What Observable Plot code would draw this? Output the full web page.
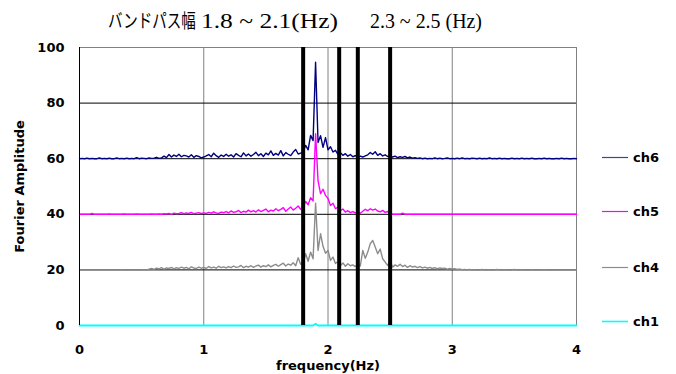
<!DOCTYPE html>
<html><head><meta charset="utf-8">
<script src="https://cdn.jsdelivr.net/npm/d3@7"></script>
<script src="https://cdn.jsdelivr.net/npm/@observablehq/plot@0.6"></script>
<style>
html,body{margin:0;padding:0;background:#fff;}
#wrap{position:relative;width:676px;height:374px;overflow:hidden;background:#fff;}
#overlay{position:absolute;left:0;top:0;pointer-events:none;}
</style></head><body>
<div id="wrap"><div id="chart"></div><svg id="overlay" width="676" height="374"></svg></div>
<script>
// ---- data ----
const freqStep = 0.02;          // FFT bin width (Hz), bins 0 .. 4 Hz
const binCount = 201;
const xTicks = [0, 1, 2, 3, 4];
const yTicks = [0, 20, 40, 60, 80, 100];
const bandEdges = [1.8, 2.09, 2.24, 2.5];
const titleMain = "バンドパス幅";
const titleBand1 = "1.8 ~ 2.1(Hz)";
const titleBand2 = "2.3 ~ 2.5 (Hz)";
const seriesNames = ["ch6", "ch5", "ch4", "ch1"];
const seriesColors = ["#000080", "#ff00ff", "#8c8c8c", "#00ffff"];

const ch6Amp = [
60.0,60.1,60.0,60.2,60.0,60.1,60.0,60.0,60.3,60.0,
60.1,60.0,60.2,60.0,60.0,60.3,60.0,60.1,60.0,60.2,
60.0,60.1,60.0,60.4,60.0,60.2,60.1,60.0,60.3,60.1,
60.2,60.5,60.1,60.3,60.9,60.4,61.5,60.6,61.3,60.8,
61.6,60.7,61.2,61.0,60.6,61.4,60.5,61.1,60.8,60.3,
60.6,61.0,61.5,60.7,62.0,61.1,60.5,61.3,60.8,61.6,
60.9,61.4,60.6,61.8,61.2,60.7,62.1,61.0,61.7,60.9,
61.5,62.3,61.1,61.8,60.8,62.0,61.4,62.8,61.2,61.9,
61.3,62.9,61.0,62.2,61.6,61.1,62.4,63.3,61.7,62.0,
62.5,64.8,63.2,68.4,66.5,94.7,65.8,68.3,64.1,67.6,
63.2,64.3,62.4,63.0,61.6,62.1,61.2,61.8,60.9,61.5,
60.7,61.1,60.5,60.9,60.6,61.0,61.4,62.2,61.6,62.5,
61.2,61.8,61.0,61.4,60.8,61.1,60.6,60.9,60.4,60.7,
60.5,60.8,60.3,60.6,60.2,60.4,60.1,60.3,60.0,60.2,
60.0,60.1,60.0,60.3,60.0,60.2,60.0,60.1,60.3,60.0,
60.1,60.0,60.2,60.0,60.3,60.0,60.1,60.0,60.2,60.1,
60.0,60.2,60.0,60.1,60.0,60.3,60.0,60.1,60.0,60.2,
60.0,60.1,60.0,60.0,60.2,60.0,60.1,60.0,60.2,60.0,
60.1,60.0,60.2,60.0,60.0,60.1,60.0,60.2,60.0,60.1,
60.0,60.0,60.1,60.0,60.2,60.0,60.1,60.0,60.0,60.1,60.0];

const ch5Amp = [
40.0,40.0,40.0,40.0,40.0,40.3,40.0,40.0,40.0,40.0,
40.0,40.0,40.1,40.0,40.0,40.0,40.0,40.0,40.1,40.0,
40.0,40.0,40.0,40.1,40.0,40.0,40.0,40.0,40.0,40.1,
40.0,40.0,40.1,40.0,40.2,40.1,40.3,40.0,40.4,40.2,
40.3,40.6,40.2,40.5,40.3,40.7,40.2,40.4,40.6,40.3,
40.5,40.3,40.7,40.4,40.9,40.5,40.3,40.8,40.6,41.0,
40.5,41.2,40.7,40.9,41.4,40.6,41.1,40.8,41.5,40.9,
41.3,40.8,41.6,41.0,41.4,41.9,40.9,41.5,41.2,42.0,
41.3,41.8,42.4,41.1,41.9,42.6,41.5,42.2,43.0,41.8,
42.5,44.6,43.4,46.0,44.8,69.0,52.0,47.4,49.0,46.8,
45.7,43.2,44.0,42.0,42.6,41.4,41.9,40.8,41.3,40.6,
41.0,40.5,40.8,40.4,41.1,41.8,41.3,42.0,41.5,41.9,
41.2,40.9,41.4,40.7,41.0,40.0,40.0,40.0,40.0,40.0,
40.4,40.0,40.0,40.0,40.0,40.0,40.0,40.0,40.0,40.0,
40.0,40.0,40.0,40.0,40.0,40.0,40.0,40.0,40.0,40.0,
40.0,40.0,40.0,40.0,40.0,40.0,40.0,40.0,40.0,40.0,
40.0,40.0,40.0,40.0,40.0,40.0,40.0,40.0,40.0,40.0,
40.0,40.0,40.0,40.0,40.0,40.0,40.0,40.0,40.0,40.0,
40.0,40.0,40.0,40.0,40.0,40.0,40.0,40.0,40.0,40.0,
40.0,40.0,40.0,40.0,40.0,40.0,40.0,40.0,40.0,40.0,40.0];

const ch4Amp = [
20.0,20.0,20.0,20.0,20.0,20.0,20.0,20.0,20.0,20.0,
20.0,20.0,20.0,20.0,20.0,20.0,20.0,20.1,20.0,20.0,
20.0,20.0,20.0,20.0,20.0,20.0,20.1,20.0,20.3,20.5,
20.2,20.6,20.4,20.8,20.3,20.7,20.5,20.9,20.4,20.8,
20.5,21.0,20.6,20.9,20.4,21.1,20.7,20.5,21.0,20.6,
20.9,20.5,21.2,20.7,21.0,20.6,21.3,20.8,21.1,20.7,
21.2,20.8,21.4,20.9,21.1,21.6,20.8,21.3,21.0,21.5,
20.9,21.4,21.7,21.0,21.5,21.2,21.8,21.1,21.6,22.0,
21.3,21.9,22.4,21.4,22.1,21.7,22.6,21.5,24.4,22.0,
22.5,25.8,23.1,26.4,24.0,44.0,27.0,33.0,28.5,26.0,
27.0,23.4,24.6,22.3,23.0,21.6,22.5,21.3,22.2,21.5,
21.8,21.2,22.0,21.4,27.0,24.2,26.4,29.4,30.6,28.2,
25.8,27.5,24.0,22.8,21.6,23.4,21.0,21.8,21.3,22.0,
21.2,21.7,20.9,21.5,21.0,21.3,20.8,21.2,20.7,21.0,
20.6,20.9,20.5,20.8,20.4,20.7,20.5,20.6,20.3,20.5,
20.3,20.4,20.2,20.3,20.1,20.2,20.0,20.2,20.0,20.1,
20.0,20.0,20.2,20.0,20.0,20.1,20.0,20.0,20.2,20.0,
20.0,20.1,20.0,20.0,20.0,20.2,20.0,20.0,20.1,20.0,
20.0,20.0,20.1,20.0,20.0,20.0,20.0,20.1,20.0,20.0,
20.0,20.0,20.0,20.0,20.0,20.0,20.0,20.0,20.0,20.0,20.0];

const ch1Freq = [0, 1.88, 1.9, 1.92, 4];
const ch1Amp = [0, 0, 0.6, 0, 0];

// ---- build tables ----
const freq = d3.range(binCount).map(i => +(i * freqStep).toFixed(2));
const toRows = (fs, amps) => amps.map((v, i) => ({f: fs[i], v}));
const tables = {
  ch6: toRows(freq, ch6Amp),
  ch5: toRows(freq, ch5Amp),
  ch4: toRows(freq, ch4Amp),
  ch1: toRows(ch1Freq, ch1Amp)
};
const colorOf = Object.fromEntries(seriesNames.map((n, i) => [n, seriesColors[i]]));
const drawOrder = ["ch1", "ch4", "ch5", "ch6"];

const font = "'DejaVu Sans', sans-serif";
const plot = Plot.plot({
  width: 676, height: 374,
  marginLeft: 79, marginRight: 100, marginTop: 47, marginBottom: 49,
  style: {fontFamily: font, fontSize: "13px", fontWeight: "bold", background: "#fff", color: "#000"},
  x: {domain: [0, 4]},
  y: {domain: [0, 100]},
  marks: [
    Plot.gridX(xTicks.slice(1, -1), {stroke: "#808080", strokeOpacity: 1}),
    Plot.gridY(yTicks.slice(1, -1), {stroke: "#000", strokeOpacity: 1}),
    Plot.ruleY([yTicks[yTicks.length - 1]], {stroke: "#808080"}),
    Plot.ruleX([xTicks[xTicks.length - 1]], {stroke: "#808080"}),
    ...drawOrder.map(n => Plot.line(tables[n], {x: "f", y: "v", stroke: colorOf[n], strokeWidth: n === "ch1" ? 1.8 : 1.4})),
    Plot.ruleX([xTicks[0]], {stroke: "#000"}),
    Plot.ruleX(bandEdges, {stroke: "#000", strokeWidth: 4}),
    Plot.axisX(xTicks, {tickSize: 0, tickPadding: 19, tickFormat: d3.format("d"), label: "frequency(Hz)", labelAnchor: "center", labelArrow: "none", labelOffset: 44}),
    Plot.axisY(yTicks, {tickSize: 0, tickPadding: 15, tickFormat: d3.format("d"), label: "Fourier Amplitude", labelAnchor: "center", labelArrow: "none", labelOffset: 65})
  ]
});
document.getElementById("chart").appendChild(plot);

// ---- title & legend overlay ----
const ov = d3.select("#overlay");
ov.append("text").attr("transform", "translate(108,28) scale(1,1.3)")
  .attr("font-family", "'Noto Sans CJK JP', sans-serif").attr("font-size", 14.5)
  .text(titleMain);
ov.append("text").attr("x", 201).attr("y", 28)
  .attr("font-family", "'Liberation Serif', serif").attr("font-size", 22)
  .attr("textLength", 137).attr("lengthAdjust", "spacingAndGlyphs").text(titleBand1);
ov.append("text").attr("x", 370).attr("y", 28)
  .attr("font-family", "'Liberation Serif', serif").attr("font-size", 22)
  .attr("textLength", 112).attr("lengthAdjust", "spacingAndGlyphs").text(titleBand2);

const legendY = [157.5, 211.5, 267.5, 321.5];
seriesNames.forEach((n, i) => {
  ov.append("line").attr("x1", 602).attr("x2", 628).attr("y1", legendY[i]).attr("y2", legendY[i])
    .attr("stroke", colorOf[n]).attr("stroke-width", n === "ch1" ? 1.6 : 1.2).attr("stroke-opacity", n === "ch6" ? 0.75 : 1);
  ov.append("text").attr("x", 633).attr("y", legendY[i]).attr("dy", "0.36em")
    .attr("font-family", font).attr("font-size", 13).attr("font-weight", "bold").text(n);
});
</script>
</body></html>
